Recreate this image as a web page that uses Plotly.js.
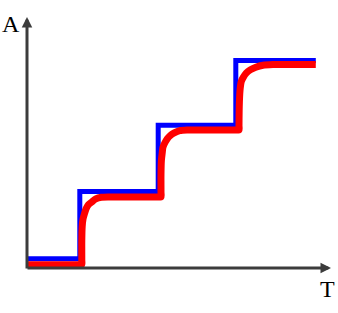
<!DOCTYPE html>
<html>
<head>
<meta charset="utf-8">
<script src="https://cdn.plot.ly/plotly-3.0.1.min.js"></script>
<style>html,body{margin:0;padding:0;background:#fff;}#chart{width:338px;height:313px;}</style>
</head>
<body>
<div id="chart"></div>
<script>
// Blue: ideal step signal (drawn with 'hv' steps)
var stepT = [0.01, 0.66, 1.64, 2.61, 3.61];
var stepA = [0.14, 1.16, 2.16, 3.14, 3.14];

// Red: smoothed response
var respT = [0.01, 0.665, 0.685, 0.685, 0.685, 0.69, 0.70, 0.72, 0.74, 0.77, 0.81, 0.86, 0.93, 1.03, 1.20,
             1.655, 1.675, 1.675, 1.675, 1.68, 1.69, 1.70, 1.725, 1.755, 1.79, 1.84, 1.91, 2.01, 2.15, 2.30,
             2.63, 2.65, 2.65, 2.655, 2.665, 2.68, 2.705, 2.74, 2.79, 2.86, 2.95, 3.08, 3.61];
var respA = [0.05, 0.05, 0.05, 0.12, 0.42, 0.63, 0.74, 0.83, 0.90, 0.96, 1.00, 1.045, 1.07, 1.076, 1.076,
             1.076, 1.076, 1.15, 1.42, 1.63, 1.74, 1.83, 1.90, 1.96, 2.005, 2.045, 2.08, 2.09, 2.09, 2.09,
             2.09, 2.09, 2.16, 2.52, 2.72, 2.83, 2.89, 2.95, 3.00, 3.04, 3.07, 3.08, 3.08];

var axisLabels = ['A', 'T'];

var traces = [
  {x: stepT, y: stepA, type: 'scatter', mode: 'lines',
   line: {color: '#0000ff', width: 5, shape: 'hv'}, hoverinfo: 'skip'},
  {x: respT, y: respA, type: 'scatter', mode: 'lines',
   line: {color: '#ff0000', width: 7, shape: 'spline', smoothing: 0.8}, hoverinfo: 'skip'}
];

var axisColor = '#3c3c3c';
var layout = {
  width: 338, height: 313,
  margin: {l: 27, r: 7, t: 17, b: 45, pad: 0},
  paper_bgcolor: '#ffffff', plot_bgcolor: '#ffffff',
  showlegend: false,
  xaxis: {range: [0, 3.8], visible: false, fixedrange: true},
  yaxis: {range: [0, 3.8], visible: false, fixedrange: true},
  annotations: [
    {x: 0, y: 3.8, ax: 0, ay: -0.03, xref: 'x', yref: 'y', axref: 'x', ayref: 'y',
     showarrow: true, arrowhead: 2, arrowsize: 0.7, arrowwidth: 3, arrowcolor: axisColor, text: ''},
    {x: 3.8, y: 0, ax: -0.0125, ay: 0, xref: 'x', yref: 'y', axref: 'x', ayref: 'y',
     showarrow: true, arrowhead: 2, arrowsize: 0.7, arrowwidth: 3, arrowcolor: axisColor, text: ''},
    {x: -0.052, y: 0.972, xref: 'paper', yref: 'paper', xanchor: 'center', yanchor: 'middle',
     showarrow: false, text: axisLabels[0],
     font: {family: 'Liberation Serif, Times New Roman, serif', size: 24, color: '#000'}},
    {x: 0.988, y: -0.082, xref: 'paper', yref: 'paper', xanchor: 'center', yanchor: 'middle',
     showarrow: false, text: axisLabels[1],
     font: {family: 'Liberation Serif, Times New Roman, serif', size: 24, color: '#000'}}
  ]
};

Plotly.newPlot('chart', traces, layout, {staticPlot: true, displayModeBar: false});
</script>
</body>
</html>
